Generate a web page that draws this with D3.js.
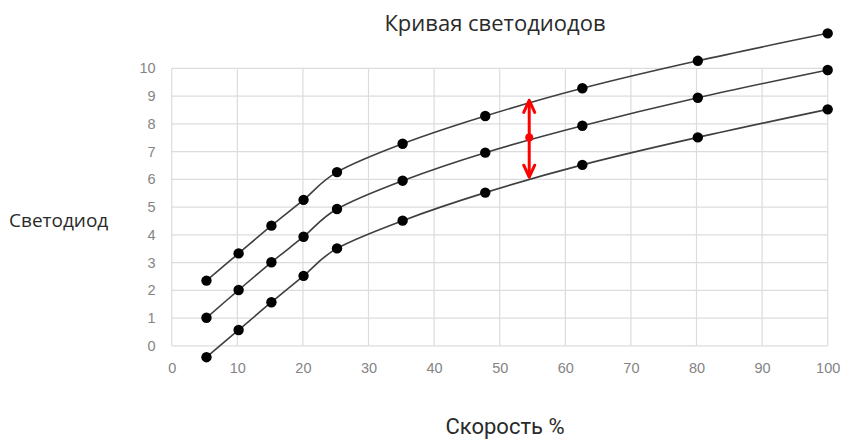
<!DOCTYPE html>
<html>
<head>
<meta charset="utf-8">
<script src="https://cdn.jsdelivr.net/npm/d3@7"></script>
<style>
  body { margin: 0; background: #fff; }
  text { font-family: "Open Sans", "Liberation Sans", sans-serif; }
</style>
</head>
<body>
<div id="chart"></div>
<script>
// Daten
const speeds = [5.3, 10.2, 15.2, 20.1, 25.2, 35.2, 47.8, 62.6, 80.2, 100];
const upperSeries = [2.35, 3.33, 4.33, 5.26, 6.26, 7.28, 8.28, 9.28, 10.27, 11.26];
const middleSeries = [1.01, 2.01, 3.01, 3.93, 4.93, 5.95, 6.96, 7.93, 8.94, 9.94];
const lowerSeries = [-0.41, 0.57, 1.57, 2.52, 3.51, 4.51, 5.52, 6.52, 7.51, 8.52];
const xTicks = [0, 10, 20, 30, 40, 50, 60, 70, 80, 90, 100];
const yTicks = [0, 1, 2, 3, 4, 5, 6, 7, 8, 9, 10];
// roter Doppelpfeil
const arrowX = 54.5;
const arrowValues = { top: 8.88, mid: 7.51, bottom: 6.04 };

const width = 843, height = 441;
const margin = { top: 68.3, right: 15.3, bottom: 95.2, left: 171.7 };

const svg = d3.select("#chart").append("svg")
    .attr("width", width)
    .attr("height", height);

const x = d3.scaleLinear().domain([0, 100]).range([margin.left, width - margin.right]);
const y = d3.scaleLinear().domain([0, 10]).range([height - margin.bottom, margin.top]);

// Gitterlinien
svg.append("g")
    .selectAll("line")
    .data(xTicks)
    .enter().append("line")
    .attr("x1", d => x(d)).attr("x2", d => x(d))
    .attr("y1", y(0)).attr("y2", y(10))
    .attr("stroke", "#dcdcdc").attr("stroke-width", 1.2);

svg.append("g")
    .selectAll("line")
    .data(yTicks)
    .enter().append("line")
    .attr("x1", x(0)).attr("x2", x(100))
    .attr("y1", d => y(d)).attr("y2", d => y(d))
    .attr("stroke", "#dcdcdc").attr("stroke-width", 1.2);

// Achsenbeschriftungen
const xAxis = svg.append("g")
    .attr("transform", `translate(0,${y(0) + 17})`)
    .call(d3.axisBottom(x).tickValues(xTicks).tickSize(0).tickPadding(0));
xAxis.select(".domain").remove();
xAxis.selectAll("text").attr("fill", "#848484").style("font-size", "14.5px")
    .style("font-family", "'Liberation Sans', sans-serif");

const yAxis = svg.append("g")
    .attr("transform", `translate(${x(0) - 16},0)`)
    .call(d3.axisLeft(y).tickValues(yTicks).tickSize(0).tickPadding(0));
yAxis.select(".domain").remove();
yAxis.selectAll("text").attr("fill", "#848484").style("font-size", "14.5px")
    .style("font-family", "'Liberation Sans', sans-serif");

// Linien
const line = d3.line()
    .x((d, i) => x(speeds[i]))
    .y(d => y(d))
    .curve(d3.curveCatmullRom.alpha(0));

const allSeries = [upperSeries, middleSeries, lowerSeries];

svg.append("g")
    .selectAll("path")
    .data(allSeries)
    .enter().append("path")
    .attr("d", line)
    .attr("fill", "none")
    .attr("stroke", "#3f3f3f")
    .attr("stroke-width", 1.6);

allSeries.forEach(series => {
    svg.append("g")
        .selectAll("circle")
        .data(series)
        .enter().append("circle")
        .attr("cx", (d, i) => x(speeds[i]))
        .attr("cy", d => y(d))
        .attr("r", 5.2)
        .attr("fill", "#000");
});

// Pfeil
const ax = x(arrowX), aTop = y(arrowValues.top), aBot = y(arrowValues.bottom);
const arrow = svg.append("g").attr("stroke", "#ff0000").attr("stroke-width", 3)
    .attr("fill", "none").attr("stroke-linecap", "round").attr("stroke-linejoin", "round");
arrow.append("line").attr("x1", ax).attr("x2", ax).attr("y1", aTop + 2).attr("y2", aBot - 2);
arrow.append("path").attr("d", `M${ax - 5.5},${aTop + 13} L${ax},${aTop + 1} L${ax + 5.5},${aTop + 13}`);
arrow.append("path").attr("d", `M${ax - 5.5},${aBot - 13} L${ax},${aBot - 1} L${ax + 5.5},${aBot - 13}`);
svg.append("circle")
    .attr("cx", ax).attr("cy", y(arrowValues.mid))
    .attr("r", 4).attr("fill", "#ff0000");

// Titel
svg.append("text")
    .attr("x", 495).attr("y", 31)
    .attr("text-anchor", "middle")
    .attr("fill", "#2a2a2a")
    .style("font-size", "22px")
    .text("Кривая светодиодов");

svg.append("text")
    .attr("x", 9).attr("y", 227)
    .attr("fill", "#2a2a2a")
    .style("font-size", "19px")
    .text("Светодиод");

svg.append("text")
    .attr("x", 505).attr("y", 434)
    .attr("text-anchor", "middle")
    .attr("fill", "#2a2a2a")
    .style("font-size", "22px")
    .style("font-family", "Roboto, sans-serif")
    .text("Скорость %");
</script>
</body>
</html>
